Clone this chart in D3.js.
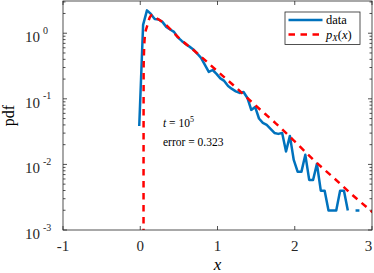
<!DOCTYPE html>
<html>
<head>
<meta charset="utf-8">
<script src="https://cdn.jsdelivr.net/npm/d3@7"></script>
<style>
  body { margin: 0; background: #fff; }
  svg { display: block; font-family: "Liberation Serif", "DejaVu Serif", serif; }
</style>
</head>
<body>
<svg id="chart" width="374" height="273"></svg>
<script>
// histogram of the simulated data (bin centres and pdf values, 0 = empty bin)
const dataX = [-0.013, 0.037, 0.087, 0.137, 0.187, 0.237, 0.287, 0.337, 0.387, 0.437,
               0.487, 0.537, 0.587, 0.637, 0.687, 0.737, 0.787, 0.837, 0.887, 0.937,
               0.987, 1.037, 1.087, 1.137, 1.187, 1.237, 1.287, 1.337, 1.387, 1.437,
               1.487, 1.537, 1.587, 1.637, 1.687, 1.737, 1.787, 1.837, 1.887, 1.937,
               1.987, 2.037, 2.087, 2.137, 2.187, 2.237, 2.287, 2.337, 2.387, 2.437,
               2.487, 2.537, 2.587, 2.637, 2.687, 2.737, 2.787, 2.837];
const dataY = [0.0386, 1.34, 2.23, 1.97, 1.65, 1.62, 1.49, 1.25, 1.14, 1.05,
               0.863, 0.764, 0.687, 0.625, 0.566, 0.49, 0.42, 0.329, 0.257, 0.275,
               0.24, 0.205, 0.1875, 0.157, 0.1416, 0.13, 0.123, 0.127, 0.103, 0.0678,
               0.0753, 0.0501, 0.043, 0.04, 0.0348, 0.0302, 0.0292, 0.0302, 0.0157, 0.0272,
               0.0117, 0.00776, 0.00776, 0.014, 0.0058, 0.0058, 0.0102, 0.00398, 0.00398, 0.00198,
               0.00198, 0.00198, 0.00398, 0.00398, 0.00198, 0, 0.00198, 0.00198];

// theoretical density p_X(x)
const pdfX = [0.042, 0.044, 0.06, 0.09, 0.13, 0.16, 0.2, 0.3, 0.5, 0.75,
              1.0, 1.25, 1.5, 1.75, 2.0, 2.25, 2.5, 2.75, 3.0, 3.1];
const pdfY = [0.0001, 0.32, 0.9, 1.3, 1.8, 1.9, 1.74, 1.45, 0.85, 0.48,
              0.263, 0.145, 0.0776, 0.0427, 0.0224, 0.0115, 0.0063, 0.00339, 0.0019, 0.00151];

const xTicks = [-1, 0, 1, 2, 3];
const yTicks = [1e-3, 1e-2, 1e-1, 1e0];
const yTickExp = ['-3', '-2', '-1', '0'];
const legendLabels = ['data', 'p_X(x)'];

let svg = d3.select('#chart');
let margin = {'top': 1, 'left': 63, 'right': 2, 'bottom': 43};
let w = +svg.attr('width'), h = +svg.attr('height');
let width = w - margin.left - margin.right;
let height = h - margin.top - margin.bottom;

let x = d3.scaleLinear().domain([-1, 3]).range([0, width]);
let y = d3.scaleLog().domain([1e-3, 3.1]).range([height, 0]);

let chart = svg.append('g')
    .attr('transform', `translate(${margin.left}, ${margin.top})`);

chart.append('clipPath').attr('id', 'clip')
  .append('rect').attr('width', width).attr('height', height);

const axisColor = '#262626';

// minor ticks on the log axis
let minor = [];
for (let k = -3; k <= 0; k++) {
    for (let m = 2; m <= 9; m++) {
        let v = m * Math.pow(10, k);
        if (v < y.domain()[1]) minor.push(v);
    }
}

// ticks on all four sides, pointing inwards
let ticks = chart.append('g').attr('stroke', axisColor).attr('stroke-width', 0.8);
for (let t of xTicks) {
    ticks.append('line').attr('x1', x(t)).attr('x2', x(t)).attr('y1', height).attr('y2', height - 4);
    ticks.append('line').attr('x1', x(t)).attr('x2', x(t)).attr('y1', 0).attr('y2', 4);
}
for (let t of yTicks) {
    ticks.append('line').attr('x1', 0).attr('x2', 4).attr('y1', y(t)).attr('y2', y(t));
    ticks.append('line').attr('x1', width).attr('x2', width - 4).attr('y1', y(t)).attr('y2', y(t));
}
for (let t of minor) {
    ticks.append('line').attr('x1', 0).attr('x2', 2.5).attr('y1', y(t)).attr('y2', y(t));
    ticks.append('line').attr('x1', width).attr('x2', width - 2.5).attr('y1', y(t)).attr('y2', y(t));
}

// lines
let plot = chart.append('g').attr('clip-path', 'url(#clip)');

let dataLine = d3.line()
    .defined(d => d[1] > 0)
    .x(d => x(d[0]))
    .y(d => y(d[1]));

plot.append('path')
    .datum(d3.zip(dataX, dataY))
    .attr('fill', 'none')
    .attr('stroke', '#0072BD')
    .attr('stroke-width', 2.5)
    .attr('stroke-linejoin', 'round')
    .attr('d', dataLine);

let pdfLine = d3.line()
    .curve(d3.curveMonotoneX)
    .x(d => x(d[0]))
    .y(d => y(d[1]));

plot.append('path')
    .datum(d3.zip(pdfX, pdfY))
    .attr('fill', 'none')
    .attr('stroke', '#FF0000')
    .attr('stroke-width', 2.5)
    .attr('stroke-dasharray', '6.5,5.5')
    .attr('d', pdfLine);

// box
chart.append('rect')
    .attr('width', width).attr('height', height)
    .attr('fill', 'none').attr('stroke', axisColor).attr('stroke-width', 0.8);

// tick labels (last one kept inside the window)
chart.append('g').selectAll('text')
    .data(xTicks).enter().append('text')
    .attr('x', d => Math.min(x(d), width - 3.5)).attr('y', height + 21)
    .attr('text-anchor', 'middle')
    .attr('font-size', 15).attr('fill', axisColor)
    .text(d => d);

let yl = chart.append('g').attr('fill', axisColor);
yTicks.forEach(function(t, i) {
    yl.append('text')
        .attr('x', 25 - margin.left).attr('y', y(t) + 9)
        .attr('font-size', 15)
        .text('10');
    yl.append('text')
        .attr('x', 43 - margin.left).attr('y', y(t) + 0.5)
        .attr('font-size', 10)
        .text(yTickExp[i]);
});

// axis labels
svg.append('text')
    .attr('x', margin.left + width / 2).attr('y', 270)
    .attr('text-anchor', 'middle')
    .attr('font-size', 17).attr('font-style', 'italic')
    .text('x');
svg.append('text')
    .attr('transform', `translate(14, ${margin.top + height / 2}) rotate(-90)`)
    .attr('text-anchor', 'middle')
    .attr('font-size', 16)
    .text('pdf');

// annotations
let note = svg.append('g').attr('font-size', 11.5);
let t1 = note.append('text').attr('x', 163).attr('y', 127);
t1.append('tspan').attr('font-style', 'italic').text('t');
t1.append('tspan').text(' = 10');
t1.append('tspan').attr('font-size', 8).attr('dy', -5).text('5');
note.append('text').attr('x', 163).attr('y', 146).text('error = 0.323');

// legend
let leg = svg.append('g').attr('transform', 'translate(285, 12)');
leg.append('rect')
    .attr('width', 75).attr('height', 32.5)
    .attr('fill', '#fff').attr('stroke', axisColor).attr('stroke-width', 0.8);
leg.append('line')
    .attr('x1', 3.5).attr('x2', 37.5).attr('y1', 8).attr('y2', 8)
    .attr('stroke', '#0072BD').attr('stroke-width', 2.5);
leg.append('line')
    .attr('x1', 3.5).attr('x2', 37.5).attr('y1', 22.5).attr('y2', 22.5)
    .attr('stroke', '#FF0000').attr('stroke-width', 2.5)
    .attr('stroke-dasharray', '6.5,5.5');
leg.append('text').attr('x', 41).attr('y', 12).attr('font-size', 12.5).text(legendLabels[0]);
let lt = leg.append('text').attr('x', 41).attr('y', 26.5).attr('font-size', 12.5);
lt.append('tspan').attr('font-style', 'italic').text('p');
lt.append('tspan').attr('font-style', 'italic').attr('font-size', 9).attr('dy', 2.5).text('X');
lt.append('tspan').attr('dy', -2.5).text('(');
lt.append('tspan').attr('font-style', 'italic').text('x');
lt.append('tspan').text(')');
</script>
</body>
</html>
